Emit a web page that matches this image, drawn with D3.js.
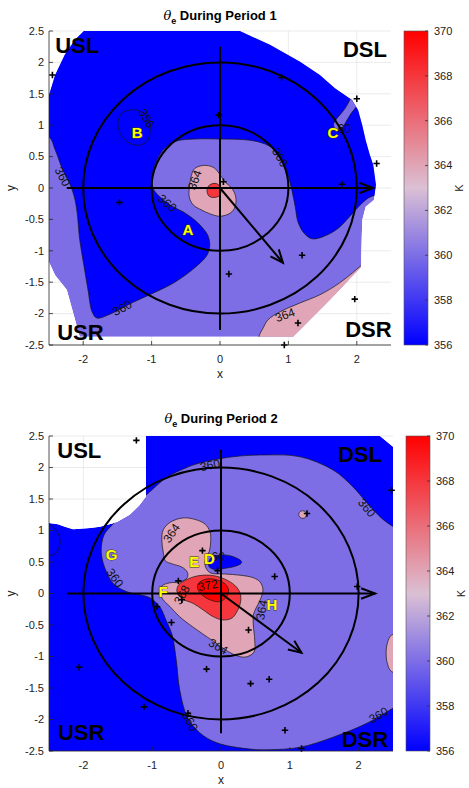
<!DOCTYPE html>
<html><head><meta charset="utf-8">
<script src="https://cdn.jsdelivr.net/npm/d3@7"></script>
<style>body{margin:0;background:#fff;} svg{display:block;font-family:"Liberation Sans",Arial,Helvetica,sans-serif;}</style>
</head><body><svg id="c" width="469" height="788"></svg>
<script>
// ---------- shared axes / colour data ----------
const xTicks = [-2, -1, 0, 1, 2];
const yTicks = [-2.5, -2, -1.5, -1, -0.5, 0, 0.5, 1, 1.5, 2, 2.5];
const cbTicks = [356, 358, 360, 362, 364, 366, 368, 370];
const cbRange = [356, 370];
const ringRadii = [1, 2];

// ---------- Period 1 ----------
const p1Domain = [[-2.5,1.48],[-2.41,1.80],[-2.27,2.12],[-2.12,2.36],[-1.99,2.5],[0.29,2.5],[0.73,2.28],[1.17,2.01],[1.46,1.80],[1.68,1.59],[1.93,1.40],[2.02,1.24],[2.08,1.0],[2.13,0.76],[2.19,0.53],[2.24,0.37],[2.28,0.05],[2.25,-0.19],[2.13,-0.30],[2.08,-0.51],[2.06,-1.26],[1.61,-1.78],[1.07,-2.37],[-2.05,-2.37],[-2.24,-1.62],[-2.41,-1.39],[-2.5,-1.18]];
const p1Blue356 = [[-2.8,0.81],[-2.5,0.81],[-2.41,0.61],[-2.30,0.29],[-2.19,0.05],[-2.13,-0.14],[-2.09,-0.38],[-2.05,-0.83],[-1.99,-1.23],[-1.93,-1.62],[-1.87,-1.97],[-1.80,-2.07],[-1.61,-2.01],[-1.27,-1.82],[-0.95,-1.66],[-0.66,-1.50],[-0.37,-1.27],[-0.19,-1.07],[-0.15,-0.91],[-0.18,-0.75],[-0.25,-0.64],[-0.37,-0.51],[-0.54,-0.38],[-0.73,-0.27],[-0.88,-0.14],[-0.98,0.0],[-0.99,0.21],[-0.92,0.45],[-0.80,0.64],[-0.63,0.75],[-0.37,0.78],[0.0,0.78],[0.44,0.76],[0.66,0.70],[0.82,0.59],[0.92,0.43],[0.99,0.22],[1.05,-0.03],[1.10,-0.30],[1.14,-0.54],[1.23,-0.72],[1.35,-0.81],[1.54,-0.76],[1.73,-0.64],[1.90,-0.45],[2.05,-0.27],[2.22,-0.13],[2.7,-0.1],[2.8,2.8],[-2.8,2.8]];
const p1StripC360 = [[1.66,1.01],[1.70,0.92],[1.76,0.93],[1.90,1.16],[2.17,1.60],[2.07,1.68],[1.83,1.27]];
const p1Pink364 = [[-0.37,0.31],[-0.24,0.36],[-0.10,0.33],[-0.01,0.23],[0.07,0.10],[0.17,0.0],[0.23,-0.14],[0.22,-0.30],[0.15,-0.40],[0.0,-0.45],[-0.15,-0.41],[-0.27,-0.35],[-0.39,-0.27],[-0.45,-0.14],[-0.44,0.07],[-0.41,0.23]];
const p1PinkLow364 = [[0.51,-2.7],[0.55,-2.45],[0.58,-2.33],[0.63,-2.23],[0.70,-2.10],[0.88,-1.97],[1.17,-1.83],[1.46,-1.70],[1.75,-1.51],[2.12,-1.18],[2.4,-0.9],[2.7,-0.9],[2.7,-2.7]];
const p1Red368 = [[-0.15,0.05],[-0.05,0.07],[0.01,0.0],[0.0,-0.11],[-0.07,-0.15],[-0.16,-0.13],[-0.19,-0.04]];
const p1Loop356 = [[-1.41,1.21],[-1.22,1.24],[-1.07,1.14],[-1.02,0.92],[-1.07,0.74],[-1.22,0.68],[-1.36,0.74],[-1.46,0.87],[-1.49,1.06]];
const p1Markers = [[-2.45,1.80],[0.90,1.76],[2.0,1.42],[-0.02,1.16],[2.29,0.39],[1.78,0.06],[0.05,0.10],[-1.47,-0.23],[1.20,-1.07],[0.13,-1.37],[1.97,-1.77],[1.14,-2.15],[0.94,-2.5]];
const p1ContourLabels = [
  {x:-2.30,y:0.18,t:"360",a:62},{x:-1.43,y:-1.91,t:"360",a:-28},{x:-0.77,y:-0.24,t:"360",a:40},
  {x:0.88,y:0.49,t:"360",a:60},{x:-0.37,y:0.13,t:"364",a:-70},{x:0.95,y:-2.02,t:"364",a:-20},
  {x:-1.07,y:1.11,t:"356",a:60},{x:1.82,y:0.94,t:"60",a:0}];
const p1Letters = [{x:-0.47,y:-0.67,t:"A"},{x:-1.21,y:0.88,t:"B"},{x:1.65,y:0.89,t:"C"}];
const p1Quads = [{x:-2.41,y:2.15,t:"USL",anchor:"start"},{x:2.44,y:2.09,t:"DSL",anchor:"end"},{x:-2.38,y:-2.42,t:"USR",anchor:"start"},{x:2.51,y:-2.37,t:"DSR",anchor:"end"}];
const p1Cross = {v:[[0,2.25],[0,-2.26]], h:[[-2.24,0],[2.24,0]], d:[[0,0],[0.92,-1.19]]};

// ---------- Period 2 ----------
const p2Domain = [[-1.09,2.5],[2.31,2.5],[2.5,2.33],[2.5,-2.5],[-2.5,-2.5],[-2.5,1.12],[-2.37,1.10],[-2.27,1.06],[-2.15,1.02],[-1.90,1.04],[-1.76,1.06],[-1.51,1.13],[-1.32,1.25],[-1.18,1.40],[-1.09,1.53]];
const p2Lav360 = [[-1.74,0.64],[-1.70,0.93],[-1.57,1.10],[-1.40,1.30],[-1.20,1.46],[-1.03,1.62],[-0.78,1.85],[-0.52,1.99],[-0.31,2.07],[0.17,2.17],[0.67,2.20],[1.15,2.17],[1.63,1.96],[1.92,1.69],[2.12,1.44],[2.35,1.18],[2.53,1.04],[2.7,0.9],[2.7,-1.7],[2.50,-1.82],[2.12,-2.06],[1.63,-2.28],[1.15,-2.44],[0.71,-2.48],[0.42,-2.47],[-0.06,-2.37],[-0.31,-2.21],[-0.49,-1.96],[-0.60,-1.53],[-0.65,-1.06],[-0.71,-0.66],[-0.80,-0.42],[-0.89,-0.21],[-1.03,-0.07],[-1.18,-0.02],[-1.32,0.01],[-1.54,0.13],[-1.66,0.33]];
const p2Pink364 = [[-0.84,1.01],[-0.74,1.13],[-0.55,1.20],[-0.36,1.17],[-0.23,1.10],[-0.16,0.98],[-0.15,0.82],[-0.17,0.67],[-0.22,0.56],[-0.23,0.44],[-0.16,0.33],[0.06,0.31],[0.28,0.29],[0.47,0.25],[0.57,0.18],[0.61,0.06],[0.57,-0.10],[0.51,-0.23],[0.47,-0.34],[0.47,-0.50],[0.49,-0.74],[0.48,-0.93],[0.35,-1.01],[0.17,-0.96],[-0.12,-0.75],[-0.41,-0.53],[-0.60,-0.37],[-0.74,-0.21],[-0.84,-0.10],[-0.89,0.01],[-0.86,0.12],[-0.74,0.17],[-0.60,0.18],[-0.49,0.25],[-0.49,0.34],[-0.57,0.42],[-0.71,0.47],[-0.81,0.52],[-0.84,0.66],[-0.86,0.85]];
const p2Red368 = [[-0.55,0.19],[-0.38,0.27],[-0.16,0.29],[0.03,0.24],[0.20,0.13],[0.28,0.0],[0.28,-0.16],[0.23,-0.29],[0.16,-0.39],[0.03,-0.42],[-0.11,-0.37],[-0.26,-0.26],[-0.40,-0.16],[-0.57,-0.08],[-0.64,0.03],[-0.62,0.13]];
const p2Red372 = [[-0.33,0.16],[-0.21,0.23],[-0.04,0.21],[0.08,0.13],[0.11,0.03],[0.06,-0.08],[-0.04,-0.13],[-0.16,-0.10],[-0.28,-0.02],[-0.34,0.08]];
const p2BlueD356 = [[-0.18,0.48],[-0.14,0.57],[-0.01,0.61],[0.13,0.60],[0.28,0.53],[0.30,0.49],[0.23,0.44],[0.06,0.40],[-0.09,0.38],[-0.17,0.42]];
const p2PinkSpot364 = [[1.13,1.25],[1.15,1.30],[1.20,1.31],[1.24,1.27],[1.22,1.20],[1.16,1.20]];
const p2PinkEdge364 = [[2.7,-0.64],[2.48,-0.66],[2.42,-0.78],[2.40,-0.95],[2.42,-1.12],[2.48,-1.24],[2.7,-1.26]];
const p2EdgeLine = [[-2.52,1.12],[-2.37,0.96],[-2.34,0.79],[-2.41,0.63],[-2.52,0.60]];
const p2Markers = [[-1.23,2.43],[2.48,1.64],[1.25,1.27],[-0.27,0.68],[-0.05,0.36],[0.78,0.27],[-0.62,0.20],[1.98,0.11],[-0.57,-0.10],[-0.93,-0.21],[-0.72,-0.46],[0.40,-0.58],[-2.06,-1.17],[-0.21,-1.20],[0.43,-1.43],[0.70,-1.36],[-1.12,-1.80],[-0.48,-1.90],[0.93,-2.17],[1.17,-2.46]];
const p2ContourLabels = [
  {x:-0.16,y:2.04,t:"360",a:-12},{x:2.12,y:1.36,t:"360",a:50},{x:-0.72,y:0.96,t:"364",a:-55},
  {x:-1.54,y:0.25,t:"360",a:55},{x:-0.04,y:0.58,t:"60",a:0},{x:-0.57,y:-0.02,t:"368",a:-60},
  {x:-0.19,y:0.13,t:"372",a:-10},{x:0.59,y:-0.26,t:"364",a:-80},{x:-0.04,y:-0.84,t:"364",a:30},
  {x:-0.45,y:-2.03,t:"360",a:60},{x:2.29,y:-1.93,t:"360",a:-30}];
const p2Letters = [{x:-1.59,y:0.61,t:"G"},{x:-0.39,y:0.50,t:"E"},{x:-0.17,y:0.56,t:"D"},{x:-0.84,y:0.03,t:"F"},{x:0.74,y:-0.17,t:"H"}];
const p2Quads = [{x:-2.38,y:2.15,t:"USL",anchor:"start"},{x:2.34,y:2.09,t:"DSL",anchor:"end"},{x:-2.37,y:-2.33,t:"USR",anchor:"start"},{x:2.43,y:-2.44,t:"DSR",anchor:"end"}];
const p2Cross = {v:[[0,2.28],[0,-2.22]], h:[[-2.24,0],[2.24,0]], d:[[0,0],[1.17,-0.94]]};

// ---------- rendering ----------
const svg = d3.select("#c");
const defs = svg.append("defs");
const cmap = d3.scaleLinear().domain([356, 363, 370]).range(["#0000ff", "#dbc0d4", "#ff0000"]).clamp(true);

const grad = defs.append("linearGradient").attr("id", "cbgrad").attr("x1", 0).attr("y1", 1).attr("x2", 0).attr("y2", 0);
d3.range(0, 15).forEach(i => {
  const v = cbRange[0] + i;
  grad.append("stop").attr("offset", (v - cbRange[0]) / (cbRange[1] - cbRange[0])).attr("stop-color", cmap(v));
});

function panel(L, P) {
  const x = d3.scaleLinear().domain([-2.5, 2.5]).range([L.x0, L.x1]);
  const y = d3.scaleLinear().domain([-2.5, 2.5]).range([L.y1, L.y0]);
  const smooth = d3.line().x(d => x(d[0])).y(d => y(d[1])).curve(d3.curveCatmullRomClosed.alpha(0.5));
  const smoothOpen = d3.line().x(d => x(d[0])).y(d => y(d[1])).curve(d3.curveCatmullRom.alpha(0.5));
  const lin = d3.line().x(d => x(d[0])).y(d => y(d[1])).curve(d3.curveLinearClosed);
  const g = svg.append("g");

  // grid
  const grid = g.append("g").attr("stroke", "#dedede").attr("stroke-width", 0.6);
  xTicks.forEach(t => grid.append("line").attr("x1", x(t)).attr("x2", x(t)).attr("y1", L.y0).attr("y2", L.y1));
  yTicks.forEach(t => grid.append("line").attr("y1", y(t)).attr("y2", y(t)).attr("x1", L.x0).attr("x2", L.x1));

  // clip paths
  const cid = "dom" + L.n, aid = "ax" + L.n;
  defs.append("clipPath").attr("id", cid).append("path").attr("d", lin(P.domain));
  defs.append("clipPath").attr("id", aid).append("rect").attr("x", L.x0).attr("y", L.y0).attr("width", L.x1 - L.x0).attr("height", L.y1 - L.y0);

  const fg = g.append("g").attr("clip-path", `url(#${cid})`);
  fg.append("path").attr("d", lin(P.domain)).attr("fill", cmap(P.baseLevel));
  P.regions.forEach(r => {
    fg.append("path").attr("d", smooth(r.pts)).attr("fill", cmap(r.level))
      .attr("stroke", "#151515").attr("stroke-width", 0.7).attr("stroke-linejoin", "round");
  });
  P.loops.forEach(l => fg.append("path").attr("d", smooth(l)).attr("fill", "none").attr("stroke", "#151515").attr("stroke-width", 0.7));
  P.lines.forEach(l => fg.append("path").attr("d", smoothOpen(l)).attr("fill", "none").attr("stroke", "#151515").attr("stroke-width", 0.7));

  // contour labels
  P.clabels.forEach(c => {
    g.append("text").attr("transform", `translate(${x(c.x)},${y(c.y)}) rotate(${c.a})`)
      .attr("text-anchor", "middle").attr("dy", "0.35em").attr("font-size", 12).attr("fill", "#111").text(c.t);
  });

  // overlay: rings, cross, arrows
  const ov = g.append("g").attr("clip-path", `url(#${aid})`).attr("stroke", "#000").attr("stroke-width", 2).attr("fill", "none");
  ringRadii.forEach(r => ov.append("ellipse").attr("cx", x(0)).attr("cy", y(0)).attr("rx", x(r) - x(0)).attr("ry", y(0) - y(r)));
  const seg = s => ov.append("line").attr("x1", x(s[0][0])).attr("y1", y(s[0][1])).attr("x2", x(s[1][0])).attr("y2", y(s[1][1]));
  seg(P.cross.v); seg(P.cross.h); seg(P.cross.d);
  function head(s, len, ang) {
    const x1 = x(s[0][0]), y1 = y(s[0][1]), x2 = x(s[1][0]), y2 = y(s[1][1]);
    const th = Math.atan2(y2 - y1, x2 - x1);
    const a1 = th + Math.PI - ang, a2 = th + Math.PI + ang;
    ov.append("path").attr("d", `M${x2 + len * Math.cos(a1)},${y2 + len * Math.sin(a1)}L${x2},${y2}L${x2 + len * Math.cos(a2)},${y2 + len * Math.sin(a2)}`);
  }
  head(P.cross.h, 15, 0.36); head(P.cross.d, 14, 0.40);

  // markers
  P.markers.forEach(m => g.append("path").attr("transform", `translate(${x(m[0])},${y(m[1])})`)
    .attr("d", "M-3.2,0H3.2M0,-3.2V3.2").attr("stroke", "#000").attr("stroke-width", 1.6));

  // letters
  P.letters.forEach(l => g.append("text").attr("x", x(l.x)).attr("y", y(l.y)).attr("text-anchor", "middle").attr("dy", "0.36em")
    .attr("font-size", 15).attr("font-weight", "bold").attr("fill", "#ffff00").attr("stroke", "#3a3a00").attr("stroke-width", 0.9)
    .attr("paint-order", "stroke").text(l.t));
  P.quads.forEach(q => g.append("text").attr("x", x(q.x)).attr("y", y(q.y)).attr("text-anchor", q.anchor)
    .attr("font-size", 22).attr("font-weight", "bold").attr("fill", "#000").text(q.t));

  // axes
  const ax = g.append("g").attr("stroke", "#262626").attr("stroke-width", 0.8);
  ax.append("line").attr("x1", L.x0).attr("x2", L.x0).attr("y1", L.y0).attr("y2", L.y1);
  ax.append("line").attr("x1", L.x0).attr("x2", L.x1).attr("y1", L.y1).attr("y2", L.y1);
  xTicks.forEach(t => ax.append("line").attr("x1", x(t)).attr("x2", x(t)).attr("y1", L.y1).attr("y2", L.y1 - 4));
  yTicks.forEach(t => ax.append("line").attr("x1", L.x0).attr("x2", L.x0 + 4).attr("y1", y(t)).attr("y2", y(t)));
  const tl = g.append("g").attr("font-size", 11).attr("fill", "#222");
  xTicks.forEach(t => tl.append("text").attr("x", x(t)).attr("y", L.y1 + 17.5).attr("text-anchor", "middle").text(t));
  yTicks.forEach(t => tl.append("text").attr("x", L.x0 - 5).attr("y", y(t)).attr("dy", "0.35em").attr("text-anchor", "end").text(t));
  g.append("text").attr("x", x(0)).attr("y", L.y1 + 33).attr("text-anchor", "middle").attr("font-size", 12).attr("fill", "#222").text("x");
  g.append("text").attr("transform", `translate(15,${y(0)}) rotate(-90)`).attr("text-anchor", "middle").attr("font-size", 12).attr("fill", "#222").text("y");

  // title
  const ti = g.append("text").attr("x", x(0)).attr("y", L.ty).attr("text-anchor", "middle").attr("font-size", 13).attr("font-weight", "bold").attr("fill", "#000");
  ti.append("tspan").attr("font-style", "italic").attr("font-weight", "normal").attr("font-family", "DejaVu Serif, serif").text("θ");
  ti.append("tspan").attr("font-size", 9).attr("dy", 4).text("e");
  ti.append("tspan").attr("dy", -4).text(" During Period " + L.n);

  // colorbar
  const cy = d3.scaleLinear().domain(cbRange).range([L.y1, L.y0]);
  g.append("rect").attr("x", L.cb).attr("y", L.y0).attr("width", 24).attr("height", L.y1 - L.y0)
    .attr("fill", "url(#cbgrad)").attr("stroke", "#555").attr("stroke-width", 0.6);
  cbTicks.forEach(t => {
    g.append("line").attr("x1", L.cb + 24).attr("x2", L.cb + 21).attr("y1", cy(t)).attr("y2", cy(t)).attr("stroke", "#333").attr("stroke-width", 0.8);
    g.append("text").attr("x", L.cb + 30).attr("y", cy(t)).attr("dy", "0.35em").attr("font-size", 11).attr("fill", "#222").text(t);
  });
  g.append("text").attr("transform", `translate(${L.cb + 59},${(L.y0 + L.y1) / 2}) rotate(-90)`).attr("text-anchor", "middle")
    .attr("font-size", 11).attr("fill", "#222").text("K");
}

panel({n: 1, x0: 49, x1: 391, y0: 31, y1: 345, cb: 404, ty: 20}, {
  domain: p1Domain, baseLevel: 360,
  regions: [{pts: p1Blue356, level: 356}, {pts: p1StripC360, level: 360}, {pts: p1PinkLow364, level: 364},
            {pts: p1Pink364, level: 364}, {pts: p1Red368, level: 368}],
  loops: [p1Loop356], lines: [],
  clabels: p1ContourLabels, markers: p1Markers, letters: p1Letters, quads: p1Quads, cross: p1Cross
});
panel({n: 2, x0: 49, x1: 393, y0: 436, y1: 751, cb: 406, ty: 423}, {
  domain: p2Domain, baseLevel: 356,
  regions: [{pts: p2Lav360, level: 360}, {pts: p2PinkEdge364, level: 364}, {pts: p2PinkSpot364, level: 364},
            {pts: p2Pink364, level: 364}, {pts: p2Red368, level: 368}, {pts: p2Red372, level: 372}, {pts: p2BlueD356, level: 356}],
  loops: [], lines: [p2EdgeLine],
  clabels: p2ContourLabels, markers: p2Markers, letters: p2Letters, quads: p2Quads, cross: p2Cross
});
</script></body></html>
